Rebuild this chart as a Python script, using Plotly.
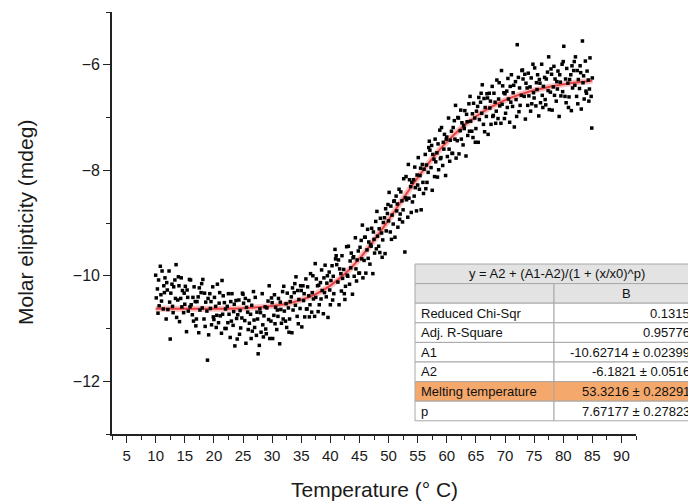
import plotly.graph_objects as go

# ---------------- data ----------------
temperature = [
    10.0, 10.1, 10.3, 10.4, 10.5, 10.6, 10.8, 10.9,
    11.0, 11.1, 11.3, 11.4, 11.5, 11.6, 11.8, 11.9,
    12.0, 12.1, 12.3, 12.4, 12.5, 12.6, 12.8, 12.9,
    13.0, 13.1, 13.3, 13.4, 13.5, 13.6, 13.8, 13.9,
    14.0, 14.1, 14.3, 14.4, 14.5, 14.6, 14.8, 14.9,
    15.0, 15.1, 15.3, 15.4, 15.5, 15.6, 15.8, 15.9,
    16.0, 16.1, 16.3, 16.4, 16.5, 16.6, 16.8, 16.9,
    17.0, 17.1, 17.3, 17.4, 17.5, 17.6, 17.8, 17.9,
    18.0, 18.1, 18.3, 18.4, 18.5, 18.6, 18.8, 18.9,
    19.0, 19.1, 19.3, 19.4, 19.5, 19.6, 19.8, 19.9,
    20.0, 20.1, 20.3, 20.4, 20.5, 20.6, 20.8, 20.9,
    21.0, 21.1, 21.3, 21.4, 21.5, 21.6, 21.8, 21.9,
    22.0, 22.1, 22.3, 22.4, 22.5, 22.6, 22.8, 22.9,
    23.0, 23.1, 23.3, 23.4, 23.5, 23.6, 23.8, 23.9,
    24.0, 24.1, 24.3, 24.4, 24.5, 24.6, 24.8, 24.9,
    25.0, 25.1, 25.3, 25.4, 25.5, 25.6, 25.8, 25.9,
    26.0, 26.1, 26.3, 26.4, 26.5, 26.6, 26.8, 26.9,
    27.0, 27.1, 27.3, 27.4, 27.5, 27.6, 27.8, 27.9,
    28.0, 28.1, 28.3, 28.4, 28.5, 28.6, 28.8, 28.9,
    29.0, 29.1, 29.3, 29.4, 29.5, 29.6, 29.8, 29.9,
    30.0, 30.1, 30.3, 30.4, 30.5, 30.6, 30.8, 30.9,
    31.0, 31.1, 31.3, 31.4, 31.5, 31.6, 31.8, 31.9,
    32.0, 32.1, 32.3, 32.4, 32.5, 32.6, 32.8, 32.9,
    33.0, 33.1, 33.3, 33.4, 33.5, 33.6, 33.8, 33.9,
    34.0, 34.1, 34.3, 34.4, 34.5, 34.6, 34.8, 34.9,
    35.0, 35.1, 35.3, 35.4, 35.5, 35.6, 35.8, 35.9,
    36.0, 36.1, 36.3, 36.4, 36.5, 36.6, 36.8, 36.9,
    37.0, 37.1, 37.3, 37.4, 37.5, 37.6, 37.8, 37.9,
    38.0, 38.1, 38.3, 38.4, 38.5, 38.6, 38.8, 38.9,
    39.0, 39.1, 39.3, 39.4, 39.5, 39.6, 39.8, 39.9,
    40.0, 40.1, 40.3, 40.4, 40.5, 40.6, 40.8, 40.9,
    41.0, 41.1, 41.3, 41.4, 41.5, 41.6, 41.8, 41.9,
    42.0, 42.1, 42.3, 42.4, 42.5, 42.6, 42.8, 42.9,
    43.0, 43.1, 43.3, 43.4, 43.5, 43.6, 43.8, 43.9,
    44.0, 44.1, 44.3, 44.4, 44.5, 44.6, 44.8, 44.9,
    45.0, 45.1, 45.3, 45.4, 45.5, 45.6, 45.8, 45.9,
    46.0, 46.1, 46.3, 46.4, 46.5, 46.6, 46.8, 46.9,
    47.0, 47.1, 47.3, 47.4, 47.5, 47.6, 47.8, 47.9,
    48.0, 48.1, 48.3, 48.4, 48.5, 48.6, 48.8, 48.9,
    49.0, 49.1, 49.3, 49.4, 49.5, 49.6, 49.8, 49.9,
    50.0, 50.1, 50.3, 50.4, 50.5, 50.6, 50.8, 50.9,
    51.0, 51.1, 51.3, 51.4, 51.5, 51.6, 51.8, 51.9,
    52.0, 52.1, 52.3, 52.4, 52.5, 52.6, 52.8, 52.9,
    53.0, 53.1, 53.3, 53.4, 53.5, 53.6, 53.8, 53.9,
    54.0, 54.1, 54.3, 54.4, 54.5, 54.6, 54.8, 54.9,
    55.0, 55.1, 55.3, 55.4, 55.5, 55.6, 55.8, 55.9,
    56.0, 56.1, 56.3, 56.4, 56.5, 56.6, 56.8, 56.9,
    57.0, 57.1, 57.3, 57.4, 57.5, 57.6, 57.8, 57.9,
    58.0, 58.1, 58.3, 58.4, 58.5, 58.6, 58.8, 58.9,
    59.0, 59.1, 59.3, 59.4, 59.5, 59.6, 59.8, 59.9,
    60.0, 60.1, 60.3, 60.4, 60.5, 60.6, 60.8, 60.9,
    61.0, 61.1, 61.3, 61.4, 61.5, 61.6, 61.8, 61.9,
    62.0, 62.1, 62.3, 62.4, 62.5, 62.6, 62.8, 62.9,
    63.0, 63.1, 63.3, 63.4, 63.5, 63.6, 63.8, 63.9,
    64.0, 64.1, 64.3, 64.4, 64.5, 64.6, 64.8, 64.9,
    65.0, 65.1, 65.3, 65.4, 65.5, 65.6, 65.8, 65.9,
    66.0, 66.1, 66.3, 66.4, 66.5, 66.6, 66.8, 66.9,
    67.0, 67.1, 67.3, 67.4, 67.5, 67.6, 67.8, 67.9,
    68.0, 68.1, 68.3, 68.4, 68.5, 68.6, 68.8, 68.9,
    69.0, 69.1, 69.3, 69.4, 69.5, 69.6, 69.8, 69.9,
    70.0, 70.1, 70.3, 70.4, 70.5, 70.6, 70.8, 70.9,
    71.0, 71.1, 71.3, 71.4, 71.5, 71.6, 71.8, 71.9,
    72.0, 72.1, 72.3, 72.4, 72.5, 72.6, 72.8, 72.9,
    73.0, 73.1, 73.3, 73.4, 73.5, 73.6, 73.8, 73.9,
    74.0, 74.1, 74.3, 74.4, 74.5, 74.6, 74.8, 74.9,
    75.0, 75.1, 75.3, 75.4, 75.5, 75.6, 75.8, 75.9,
    76.0, 76.1, 76.3, 76.4, 76.5, 76.6, 76.8, 76.9,
    77.0, 77.1, 77.3, 77.4, 77.5, 77.6, 77.8, 77.9,
    78.0, 78.1, 78.3, 78.4, 78.5, 78.6, 78.8, 78.9,
    79.0, 79.1, 79.3, 79.4, 79.5, 79.6, 79.8, 79.9,
    80.0, 80.1, 80.3, 80.4, 80.5, 80.6, 80.8, 80.9,
    81.0, 81.1, 81.3, 81.4, 81.5, 81.6, 81.8, 81.9,
    82.0, 82.1, 82.3, 82.4, 82.5, 82.6, 82.8, 82.9,
    83.0, 83.1, 83.3, 83.4, 83.5, 83.6, 83.8, 83.9,
    84.0, 84.1, 84.3, 84.4, 84.5, 84.6, 84.8, 84.9,
    85.0,
]

ellipticity = [
    -9.99, -10.42, -10.25, -10.71, -10.08, -10.57, -9.82, -10.36,
    -10.48, -9.91, -10.63, -10.19, -10.32, -10.04, -10.82, -10.13,
    -10.27, -10.64, -9.91, -10.50, -11.20, -10.33, -10.16, -10.58,
    -10.70, -10.21, -10.08, -10.43, -9.79, -10.79, -10.46, -10.02,
    -10.19, -10.87, -10.43, -10.04, -10.59, -10.28, -10.70, -10.33,
    -10.54, -10.20, -11.06, -10.27, -10.41, -10.67, -10.07, -10.59,
    -10.08, -10.55, -10.74, -10.41, -10.86, -10.21, -10.49, -10.95,
    -10.82, -10.49, -10.40, -11.08, -10.23, -10.65, -10.32, -10.15,
    -10.61, -10.07, -10.82, -10.33, -10.96, -10.50, -10.67, -11.60,
    -10.43, -11.12, -10.34, -10.62, -10.49, -10.93, -10.21, -10.78,
    -10.83, -10.41, -10.58, -10.98, -10.75, -10.16, -10.89, -10.52,
    -10.32, -10.76, -11.09, -10.09, -10.73, -10.38, -10.51, -11.00,
    -10.63, -11.00, -10.58, -10.89, -10.34, -10.73, -11.17, -10.49,
    -10.86, -10.34, -10.94, -10.68, -10.54, -11.33, -10.47, -10.81,
    -11.20, -10.74, -10.46, -11.11, -10.66, -10.99, -10.80, -10.33,
    -10.35, -10.52, -10.85, -10.43, -11.28, -10.60, -10.69, -11.02,
    -10.47, -10.90, -10.73, -11.19, -10.56, -11.05, -10.30, -10.84,
    -10.98, -10.41, -11.13, -10.69, -10.82, -11.48, -11.32, -10.63,
    -10.70, -11.07, -10.34, -10.93, -11.16, -10.76, -10.59, -11.01,
    -11.10, -10.61, -10.48, -10.83, -10.19, -11.19, -10.86, -10.42,
    -10.51, -11.19, -10.75, -10.36, -10.91, -10.60, -11.02, -10.65,
    -10.77, -10.43, -11.29, -10.50, -10.64, -10.90, -10.30, -10.82,
    -10.20, -10.67, -10.86, -10.53, -10.98, -10.33, -10.61, -11.07,
    -10.82, -10.49, -10.40, -11.08, -10.23, -10.65, -10.32, -10.15,
    -10.56, -10.02, -10.77, -10.28, -10.91, -10.45, -10.62, -10.19,
    -10.28, -10.97, -10.19, -10.47, -10.34, -10.78, -10.06, -10.63,
    -10.63, -10.21, -10.38, -10.78, -10.55, -9.96, -10.69, -10.32,
    -10.00, -10.44, -10.77, -9.77, -10.41, -10.06, -10.19, -10.68,
    -10.18, -10.55, -10.13, -10.44, -9.89, -10.28, -10.72, -10.04,
    -10.32, -9.80, -10.40, -10.14, -10.00, -10.79, -9.93, -10.27,
    -10.55, -10.09, -9.81, -10.46, -10.01, -10.34, -9.50, -9.68,
    -9.62, -9.79, -10.12, -9.70, -10.55, -9.87, -9.96, -10.29,
    -9.62, -10.05, -9.88, -10.34, -10.45, -10.20, -9.45, -9.99,
    -10.01, -9.44, -10.16, -9.72, -9.85, -9.57, -10.35, -9.66,
    -9.64, -10.01, -9.28, -9.87, -10.10, -9.70, -9.53, -9.95,
    -9.95, -9.46, -9.33, -9.68, -9.04, -10.04, -9.71, -9.27,
    -9.27, -9.95, -9.51, -9.12, -9.67, -9.36, -9.78, -9.41,
    -9.44, -9.10, -9.96, -9.17, -9.31, -9.57, -8.97, -9.49,
    -8.78, -9.25, -9.44, -9.11, -9.56, -8.91, -9.19, -9.65,
    -9.32, -8.99, -8.90, -9.58, -8.73, -9.15, -8.82, -8.65,
    -8.96, -8.42, -9.17, -8.68, -9.31, -8.85, -9.02, -8.59,
    -8.58, -9.27, -8.49, -8.77, -8.64, -9.08, -8.36, -8.93,
    -8.83, -8.41, -8.58, -8.98, -8.75, -8.16, -9.55, -8.52,
    -8.12, -8.56, -8.89, -7.89, -8.53, -8.18, -8.31, -8.80,
    -8.23, -8.60, -8.18, -8.49, -7.94, -8.33, -8.77, -8.09,
    -8.28, -7.76, -8.36, -8.10, -7.96, -8.75, -7.89, -8.23,
    -8.44, -7.98, -7.70, -8.35, -7.90, -8.23, -8.04, -7.57,
    -7.45, -7.62, -7.95, -7.53, -8.38, -7.70, -7.79, -8.12,
    -7.41, -7.84, -7.67, -8.13, -7.50, -7.99, -7.24, -7.78,
    -7.76, -7.19, -7.91, -7.47, -7.60, -7.32, -8.10, -7.41,
    -7.37, -7.74, -7.01, -7.60, -7.83, -7.43, -7.26, -7.68,
    -7.68, -7.19, -7.06, -7.41, -6.77, -7.77, -7.44, -7.00,
    -7.01, -7.69, -7.25, -6.86, -7.41, -7.10, -7.52, -7.15,
    -7.21, -6.87, -7.73, -6.94, -7.08, -7.34, -6.74, -7.26,
    -6.60, -7.07, -7.26, -6.93, -7.38, -6.73, -7.01, -7.47,
    -7.21, -6.88, -6.79, -7.47, -6.62, -7.04, -6.71, -6.54,
    -6.92, -6.38, -7.13, -6.64, -7.27, -6.81, -6.98, -6.55,
    -6.63, -7.32, -6.54, -6.82, -6.69, -7.13, -6.41, -6.98,
    -6.96, -6.54, -6.71, -7.11, -6.88, -6.29, -7.02, -6.65,
    -6.34, -6.78, -7.11, -6.11, -6.75, -6.40, -6.53, -7.02,
    -6.55, -6.92, -6.50, -6.81, -6.26, -6.65, -7.09, -6.41,
    -6.71, -6.19, -6.79, -6.53, -6.39, -7.18, -6.32, -6.66,
    -6.98, -5.62, -6.24, -6.89, -6.44, -6.77, -6.58, -6.11,
    -6.10, -6.27, -6.60, -6.18, -7.03, -6.35, -6.44, -6.77,
    -6.16, -6.59, -6.42, -6.88, -6.25, -6.74, -5.99, -6.53,
    -6.63, -6.06, -6.78, -6.34, -6.47, -6.19, -6.97, -6.28,
    -6.35, -6.72, -5.99, -6.58, -6.81, -6.41, -6.24, -6.66,
    -6.76, -6.27, -6.14, -6.49, -5.85, -6.85, -6.52, -6.08,
    -6.18, -6.86, -6.42, -6.03, -6.58, -6.27, -6.69, -6.32,
    -6.46, -6.12, -6.98, -6.19, -6.33, -6.59, -5.99, -6.51,
    -5.94, -5.65, -6.60, -6.27, -6.72, -6.07, -6.35, -6.81,
    -6.61, -6.28, -6.19, -6.87, -6.02, -6.44, -6.11, -5.94,
    -6.39, -5.85, -6.60, -6.11, -6.74, -6.28, -6.45, -6.02,
    -6.15, -6.84, -5.55, -6.34, -6.21, -6.65, -5.93, -6.50,
    -6.54, -6.12, -6.29, -6.69, -6.46, -5.87, -6.60, -7.20,
    -6.25,
]

fit_temperature = [10, 15, 20, 25, 30, 32.5, 35, 37.5, 40, 42.5, 45, 47.5, 50,
                   52.5, 55, 57.5, 60, 62.5, 65, 67.5, 70, 72.5, 75, 77.5, 80, 82.5, 85]
fit_ellipticity = [-10.627, -10.627, -10.625, -10.614, -10.574, -10.530, -10.458,
                   -10.347, -10.186, -9.964, -9.677, -9.330, -8.942, -8.537, -8.142,
                   -7.779, -7.462, -7.197, -6.980, -6.808, -6.672, -6.567, -6.485,
                   -6.421, -6.372, -6.333, -6.303]

x_tick_values = [5, 10, 15, 20, 25, 30, 35, 40, 45, 50, 55, 60, 65, 70, 75, 80, 85, 90]
y_tick_values = [-12, -10, -8, -6]

table_title = "y = A2 + (A1-A2)/(1 + (x/x0)^p)"
table_column = "B"
table_labels = ["Reduced Chi-Sqr", "Adj. R-Square", "A1", "A2",
                "Melting temperature", "p"]
table_values = ["0.1315", "0.95776", "-10.62714 ± 0.02399", "-6.1821 ± 0.0516",
                "53.3216 ± 0.28291", "7.67177 ± 0.27823"]
highlight_label = "Melting temperature"

# ---------------- layout geometry (pixels) ----------------
W, H = 688, 504
ML, MR, MT, MB = 112, 52, 12, 70
PW, PH = W - ML - MR, H - MT - MB


def px_x(p):
    return (p - ML) / PW


def px_y(p):
    return (H - MB - p) / PH


FONT = "Liberation Sans, Arial, sans-serif"

fig = go.Figure()
# fit curve: soft pink halo + red core, under the data points
fig.add_trace(go.Scatter(
    x=fit_temperature, y=fit_ellipticity, mode="lines",
    line=dict(color="rgba(245,120,120,0.45)", width=6, shape="spline", smoothing=1.0),
    hoverinfo="skip",
))
fig.add_trace(go.Scatter(
    x=fit_temperature, y=fit_ellipticity, mode="lines",
    line=dict(color="rgba(228,45,45,0.85)", width=2, shape="spline", smoothing=1.0),
    hoverinfo="skip",
))
fig.add_trace(go.Scatter(
    x=temperature, y=ellipticity, mode="markers",
    marker=dict(symbol="square", size=3.5, color="#000000", line=dict(width=0)),
    hoverinfo="skip", cliponaxis=False,
))

axis_common = dict(
    showline=True, linecolor="#222222", linewidth=1.6,
    ticks="outside", ticklen=7, tickwidth=1.4, tickcolor="#222222",
    showgrid=False, zeroline=False, mirror=False,
)

fig.update_xaxes(
    range=[2.5, 92.5], tickmode="array", tickvals=x_tick_values,
    tickfont=dict(family=FONT, size=15, color="#1a1a1a"),
    minor=dict(dtick=2.5, tick0=0, ticks="outside", ticklen=4, tickwidth=1.2,
               tickcolor="#222222"),
    **axis_common,
)
fig.update_yaxes(
    range=[-13, -5], tickmode="array", tickvals=y_tick_values,
    tickfont=dict(family=FONT, size=16, color="#1a1a1a"),
    minor=dict(dtick=1, tick0=-13, ticks="outside", ticklen=4, tickwidth=1.2,
               tickcolor="#222222"),
    **axis_common,
)

# ---------------- inset table ----------------
t_left, t_mid, t_right = 415, 554, 699
t_top, row_h = 264, 19.6
border = "#a8a8a8"
shapes = []
annotations = []

n_rows = 2 + len(table_labels)
for i in range(n_rows):
    y0 = t_top + i * row_h
    y1 = y0 + row_h
    if i == 0:
        cells = [(t_left, t_right, "#e3e3e3")]
    elif i == 1:
        cells = [(t_left, t_mid, "#e3e3e3"), (t_mid, t_right, "#e3e3e3")]
    else:
        lab = table_labels[i - 2]
        fill = "#f4a86c" if lab == highlight_label else "#ffffff"
        cells = [(t_left, t_mid, fill), (t_mid, t_right, fill)]
    for a, b, fc in cells:
        shapes.append(dict(type="rect", xref="paper", yref="paper",
                           x0=px_x(a), x1=px_x(b), y0=px_y(y1), y1=px_y(y0),
                           fillcolor=fc, line=dict(color=border, width=1), layer="above"))

tfont = dict(family=FONT, size=13, color="#111111")
annotations.append(dict(text=table_title, xref="paper", yref="paper",
                        x=px_x((t_left + t_right) / 2), y=px_y(t_top + row_h / 2),
                        xanchor="center", yanchor="middle", showarrow=False, font=tfont))
annotations.append(dict(text=table_column, xref="paper", yref="paper",
                        x=px_x((t_mid + t_right) / 2), y=px_y(t_top + 1.5 * row_h),
                        xanchor="center", yanchor="middle", showarrow=False, font=tfont))
for k, (lab, val) in enumerate(zip(table_labels, table_values)):
    yc = t_top + (k + 2.5) * row_h
    annotations.append(dict(text=lab, xref="paper", yref="paper",
                            x=px_x(t_left + 4), y=px_y(yc), xanchor="left",
                            yanchor="middle", showarrow=False, font=tfont))
    annotations.append(dict(text=val, xref="paper", yref="paper",
                            x=px_x(692), y=px_y(yc), xanchor="right",
                            yanchor="middle", showarrow=False, font=tfont))

# axis titles
annotations.append(dict(text="Temperature (° C)", xref="paper", yref="paper",
                        x=0.5, y=px_y(489), xanchor="center", yanchor="middle",
                        showarrow=False, font=dict(family=FONT, size=21, color="#1a1a1a")))
annotations.append(dict(text="Molar elipticity (mdeg)", xref="paper", yref="paper",
                        x=px_x(25), y=0.5, xanchor="center", yanchor="middle",
                        textangle=-90, showarrow=False,
                        font=dict(family=FONT, size=21, color="#1a1a1a")))

fig.update_layout(
    width=W, height=H,
    margin=dict(l=ML, r=MR, t=MT, b=MB, pad=0),
    paper_bgcolor="#ffffff", plot_bgcolor="#ffffff",
    showlegend=False, hovermode=False,
    font=dict(family=FONT),
    shapes=shapes, annotations=annotations,
)

fig.write_html("out.html", config={"displayModeBar": False})
